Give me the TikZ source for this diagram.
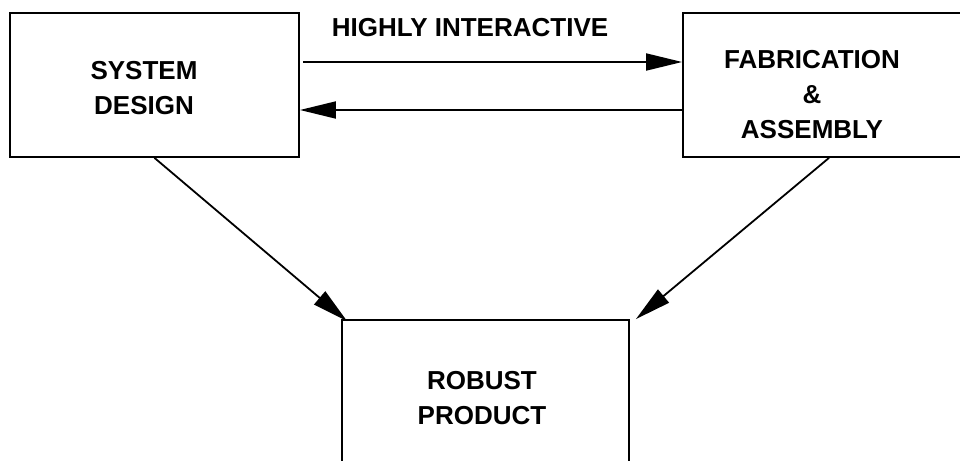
\documentclass[tikz,border=0pt]{standalone}
\usepackage{fontspec}
\setmainfont{Liberation Sans}
\usetikzlibrary{arrows.meta}

\begin{document}
\begin{tikzpicture}[x=0.5pt,y=-0.5pt,
  box/.style={draw,line width=0.9pt,rectangle,inner sep=0pt},
  lbl/.style={font=\fontsize{13}{17.5}\selectfont\bfseries,align=center,inner sep=0pt},
  arr/.style={line width=0.9pt,-{Triangle[length=18pt,width=8.5pt]}}]
\useasboundingbox (0,0) rectangle (960,461);
\clip (0,0) rectangle (960,461);

% Boxes
\node[box,minimum width=144.5pt,minimum height=72pt] (design) at (154.5,85) {};
\node[box,minimum width=146pt,minimum height=72pt] (fab) at (829,85) {};
\node[box,minimum width=143.5pt,minimum height=85pt] (product) at (485.5,405) {};

% Labels
\node[lbl] (design-text) at (144,88) {SYSTEM\\DESIGN};
\node[lbl] (fab-text) at (812,95) {FABRICATION\\\&\\ASSEMBLY};
\node[lbl] (product-text) at (482,398) {ROBUST\\PRODUCT};
\node[lbl] (interactive) at (470,28) {HIGHLY INTERACTIVE};

% Arrows
\coordinate (fwd) at (303,62);
\coordinate (back) at (682,110);
\draw[arr] (fwd) -- (fab.west |- fwd);
\draw[arr] (back) -- (design.east |- back);
\draw[arr] (design.south) -- ([xshift=3pt,yshift=-1pt]product.north west);
\draw[arr] (fab.south) -- ([xshift=3pt]product.north east);

\end{tikzpicture}
\end{document}
